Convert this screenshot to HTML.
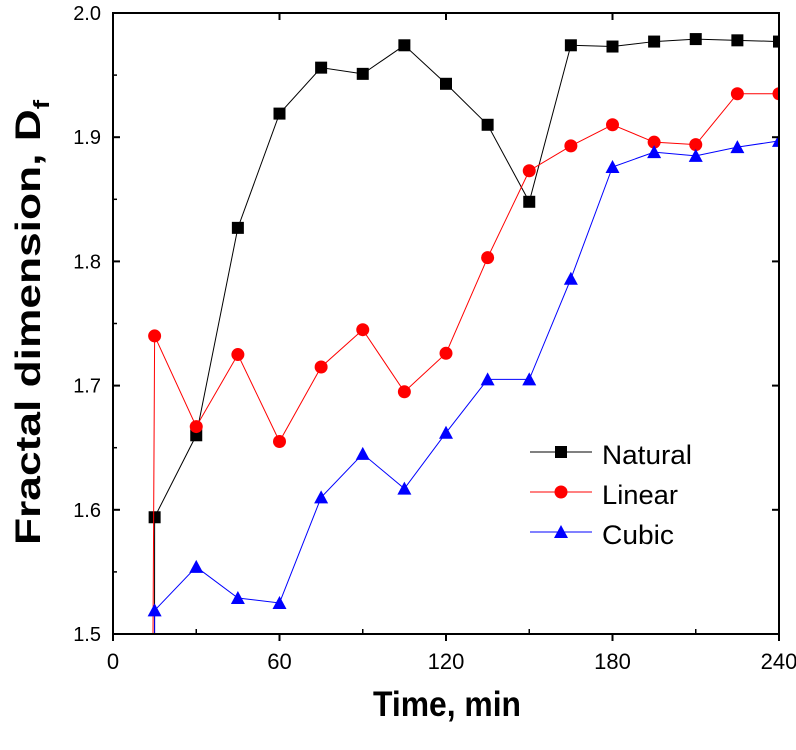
<!DOCTYPE html>
<html><head><meta charset="utf-8"><style>
html,body{margin:0;background:#fff;overflow:hidden;width:796px;height:750px;}
svg{display:block;font-family:"Liberation Sans",Arial,sans-serif;}
</style></head><body>
<svg id="chart" width="796" height="750">
<defs><clipPath id="clip"><rect x="113" y="13" width="666" height="621"/></clipPath></defs>
<g id="plot" clip-path="url(#clip)"></g>
<g id="axes"></g>
<text x="373" y="716" font-size="35" font-weight="bold" textLength="148" lengthAdjust="spacingAndGlyphs">Time, min</text>
<text transform="translate(40,545) rotate(-90)" font-size="35" font-weight="bold" textLength="445" lengthAdjust="spacingAndGlyphs">Fractal dimension, D<tspan font-size="22" dy="9">f</tspan></text>
<g>
<line x1="530" y1="452" x2="592" y2="452" stroke="#000" stroke-width="1"/><rect x="555" y="446" width="12" height="12" fill="#000"/>
<text x="602" y="464" font-size="27" textLength="90" lengthAdjust="spacingAndGlyphs">Natural</text>
<line x1="530" y1="492" x2="592" y2="492" stroke="#f00" stroke-width="1"/><circle cx="561" cy="492" r="6.5" fill="#f00"/>
<text x="602" y="504" font-size="27" textLength="76" lengthAdjust="spacingAndGlyphs">Linear</text>
<line x1="530" y1="532" x2="592" y2="532" stroke="#00f" stroke-width="1"/><polygon points="561,525 568,538 554,538" fill="#00f"/>
<text x="602" y="544" font-size="27" textLength="72" lengthAdjust="spacingAndGlyphs">Cubic</text>
</g>
</svg>
<script>
const times=[15,30,45,60,75,90,105,120,135,150,165,180,195,210,225,240];
const natural=[1.594,1.660,1.827,1.919,1.956,1.951,1.974,1.943,1.910,1.848,1.974,1.973,1.977,1.979,1.978,1.977];
const linear=[1.740,1.667,1.725,1.655,1.715,1.745,1.695,1.726,1.803,1.873,1.893,1.910,1.896,1.894,1.935,1.935];
const cubic=[1.519,1.554,1.529,1.525,1.610,1.645,1.617,1.662,1.705,1.705,1.786,1.876,1.888,1.885,1.892,1.897];
const xTicks=[0,60,120,180,240];
const yTicks=[1.5,1.6,1.7,1.8,1.9,2.0];
const leadT={natural:14.8,linear:13.2,cubic:15.0};
const NS="http://www.w3.org/2000/svg";
const X0=113,X1=779,Y0=634,Y1=13;
function xs(t){return X0+(t-0)/(240-0)*(X1-X0);}
function ys(v){return Y0-(v-1.5)/(2.0-1.5)*(Y0-Y1);}
function mk(tag,attrs,parent){const e=document.createElementNS(NS,tag);for(const k in attrs)e.setAttribute(k,attrs[k]);parent.appendChild(e);return e;}
const plot=document.getElementById('plot'),axes=document.getElementById('axes');
function series(name,vals,color,shape){
  const g=mk('g',{},plot);
  
  
  let pts=[[xs(leadT[name]),ys(1.0)]].concat(times.map((t,i)=>[xs(t),ys(vals[i])]));
  const pl=mk('polyline',{points:pts.map(p=>p.join(',')).join(' '),fill:'none',stroke:color,'stroke-width':1},g);
  
  
  times.forEach((t,i)=>{
    const x=xs(t),y=ys(vals[i]);let m;
    if(shape==='sq')m=mk('rect',{x:x-6,y:y-6,width:12,height:12,fill:color},g);
    else if(shape==='c')m=mk('circle',{cx:x,cy:y,r:6.5,fill:color},g);
    else m=mk('polygon',{points:`${x},${y-7} ${x+7},${y+6} ${x-7},${y+6}`,fill:color},g);
    
    
  });
}
series('natural',natural,'#000','sq');
series('linear',linear,'#f00','c');
series('cubic',cubic,'#00f','t');
mk('rect',{x:X0,y:Y1,width:X1-X0,height:Y0-Y1,fill:'none',stroke:'#000','stroke-width':2},axes);
xTicks.forEach(t=>{const x=xs(t);
  mk('line',{x1:x,y1:Y0,x2:x,y2:Y0+7,stroke:'#000','stroke-width':2},axes);
  mk('line',{x1:x,y1:Y1,x2:x,y2:Y1+7,stroke:'#000','stroke-width':2},axes);
  const tx=mk('text',{x:x,y:Y0+35,'text-anchor':'middle','font-size':22},axes);tx.textContent=t;
  
  
});
for(let t=30;t<240;t+=60){const x=xs(t);mk('line',{x1:x,y1:Y0,x2:x,y2:Y0-5,stroke:'#000','stroke-width':1.5},axes);}
yTicks.forEach(v=>{const y=ys(v);
  mk('line',{x1:X0,y1:y,x2:X0+7,y2:y,stroke:'#000','stroke-width':2},axes);
  mk('line',{x1:X1,y1:y,x2:X1-7,y2:y,stroke:'#000','stroke-width':2},axes);
  const tx=mk('text',{x:X0-12,y:y+7,'text-anchor':'end','font-size':20},axes);tx.textContent=v.toFixed(1);
  
  
});
for(let v=1.55;v<2.0;v+=0.1){const y=ys(v);mk('line',{x1:X0,y1:y,x2:X0+4,y2:y,stroke:'#000','stroke-width':1.5},axes);}
</script>
</body></html>
